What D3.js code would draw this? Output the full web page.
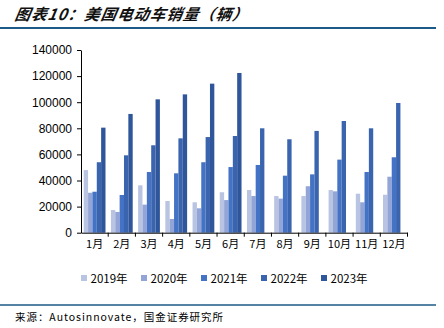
<!DOCTYPE html>
<html><head><meta charset="utf-8">
<script src="https://cdn.jsdelivr.net/npm/d3@7/dist/d3.min.js"></script>
<style>body{margin:0;background:#fff}svg{display:block}</style>
</head><body>
<svg id="c" width="444" height="328"></svg>
<script>
const months = ["1月","2月","3月","4月","5月","6月","7月","8月","9月","10月","11月","12月"];
const seriesNames = ["2019年","2020年","2021年","2022年","2023年"];
const s2019 = [48000,17400,36300,24300,23300,31000,32700,28100,28100,32700,29900,29100];
const s2020 = [30600,15900,21500,10500,18700,25000,28100,26100,35600,31700,23300,42900];
const s2021 = [31400,28900,46500,45500,54000,50300,51900,43700,44700,56000,46500,57800];
const s2022 = [54000,59300,67000,72300,73300,74100,80000,71600,78000,85600,80000,99400];
const s2023 = [80500,91000,102200,106000,114200,122400,null,null,null,null,null,null];
const yTicks = [0,20000,40000,60000,80000,100000,120000,140000];
const colors = ["#b8c4e2","#93a5d6","#4472c4","#3b64ae","#2f559a"];
const allSeries = [s2019,s2020,s2021,s2022,s2023];

const svg = d3.select("#c");
const font = "'Liberation Sans', Arial, sans-serif";
const cjk = "'Noto Sans CJK SC', sans-serif";

// title
svg.append("text").attr("x",14).attr("y",20)
  .attr("font-family",cjk).attr("font-size",15.5)
  .attr("font-style","italic").attr("font-weight","bold").attr("fill","#111")
  .attr("transform","skewX(-10) translate(3.5,0)")
  .attr("textLength",233).attr("lengthAdjust","spacing")
  .text("图表10：美国电动车销量（辆）");
svg.append("line").attr("x1",0).attr("x2",436).attr("y1",28).attr("y2",28)
  .attr("stroke","#1d5a88").attr("stroke-width",2);

const x = d3.scaleBand().domain(months).range([81,407.5]).padding(0);
const y = d3.scaleLinear().domain([0,140000]).range([232.7,50]);
const inner = d3.scaleBand().domain(seriesNames).range([0.1,0.9]).padding(0);

// bars
allSeries.forEach((arr,si)=>{
  svg.append("g").selectAll("rect").data(months.map((m,i)=>({m,v:arr[i]})).filter(d=>d.v!=null))
    .join("rect")
    .attr("x",d=>x(d.m)+inner(seriesNames[si])*x.bandwidth())
    .attr("width",inner.bandwidth()*x.bandwidth())
    .attr("y",d=>y(d.v)).attr("height",d=>y(0)-y(d.v))
    .attr("fill",colors[si]);
});

// y axis
const ya = svg.append("g").attr("transform","translate(81,0)")
  .call(d3.axisLeft(y).tickValues(yTicks).tickSize(4).tickSizeOuter(0).tickFormat(d3.format("d")));
ya.select(".domain").attr("stroke","#000");
ya.selectAll("text").attr("font-family",font).attr("font-size",12).attr("fill","#000").attr("dx","-2");

// x axis
const xa = svg.append("g").attr("transform",`translate(0,${y(0)})`)
  .call(d3.axisBottom(x).tickSize(0).tickSizeOuter(0));
xa.select(".domain").attr("stroke","#000");
xa.selectAll("text").attr("font-family",cjk).attr("font-size",11).attr("fill","#000").attr("dy","12");
const bounds = months.map(m=>x(m)).slice(1).concat([x(months[11])+x.bandwidth()]);
svg.append("g").selectAll("line").data(bounds).join("line")
  .attr("x1",d=>d).attr("x2",d=>d).attr("y1",y(0)).attr("y2",y(0)+4)
  .attr("stroke","#000");

// legend
const lg = svg.append("g");
seriesNames.forEach((n,i)=>{
  const lx = 81 + i*60;
  lg.append("rect").attr("x",lx).attr("y",275).attr("width",6).attr("height",6).attr("fill",colors[i]);
  lg.append("text").attr("x",lx+9.5).attr("y",282.5).attr("font-family",cjk)
    .attr("font-size",11.5).attr("fill","#000").text(n);
});

// footer
svg.append("line").attr("x1",0).attr("x2",436).attr("y1",305).attr("y2",305)
  .attr("stroke","#1d5a88").attr("stroke-width",1.5);
svg.append("text").attr("x",15).attr("y",321).attr("font-family",cjk)
  .attr("font-size",10.5).attr("fill","#000")
  .attr("textLength",208).attr("lengthAdjust","spacing")
  .text("来源：Autosinnovate，国金证券研究所");
</script>
</body></html>
